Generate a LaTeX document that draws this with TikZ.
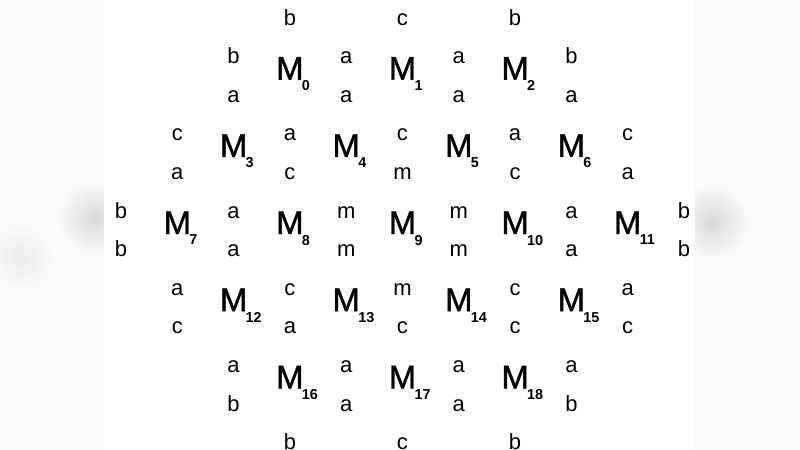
\documentclass[tikz,border=0pt]{standalone}
\usepackage{fontspec}
\setmainfont{Liberation Sans}
\newfontfamily\tilefont[FakeBold=1.2]{Liberation Sans}
\begin{document}
\begin{tikzpicture}[x=28.15pt, y=-19.3pt,
    letter/.style={anchor=base, inner sep=0pt, font=\fontsize{11}{13}\selectfont},
    tile/.style={anchor=base, inner sep=0pt, font=\tilefont\fontsize{16.4}{20}\selectfont},
    tileno/.style={anchor=north west, inner sep=0pt, xshift=-1.2pt, yshift=-0.3pt,
        font=\bfseries\fontsize{7.2}{9}\selectfont}]
    % Frame and blurred side bars
    \useasboundingbox (-60.5pt,12.5pt) rectangle (339.5pt,-212.5pt);
    \fill[gray!5] (-60.5pt,12.5pt) rectangle (-8.5pt,-212.5pt);
    \fill[gray!5] (287pt,12.5pt) rectangle (339.5pt,-212.5pt);
    \begin{scope}
        \clip (-60.5pt,12.5pt) rectangle (-8.5pt,-212.5pt);
        \shade[inner color=gray!30, outer color=gray!5] (-13pt,-96.5pt) circle (18pt);
        \shade[inner color=gray!15, outer color=gray!5] (-50pt,-116pt) circle (16pt);
    \end{scope}
    \begin{scope}
        \clip (287pt,12.5pt) rectangle (339.5pt,-212.5pt);
        \shade[inner color=gray!30, outer color=gray!5] (295.5pt,-98.5pt) circle (18pt);
    \end{scope}

    % Tiles M0 ... M18
    \foreach \i/\c/\r in {0/3/0, 1/5/0, 2/7/0,
                          3/2/1, 4/4/1, 5/6/1, 6/8/1,
                          7/1/2, 8/3/2, 9/5/2, 10/7/2, 11/9/2,
                          12/2/3, 13/4/3, 14/6/3, 15/8/3,
                          16/3/4, 17/5/4, 18/7/4}
    {
        \node[tile] (m\i) at (\c,{2*\r+1.415}) {M};
        \node[tileno] (n\i) at (m\i.base east) {\i};
    }

    % Letters between the tiles
    \foreach \k/\row in {0/{3/b,5/c,7/b},
                         1/{2/b,4/a,6/a,8/b},
                         2/{2/a,4/a,6/a,8/a},
                         3/{1/c,3/a,5/c,7/a,9/c},
                         4/{1/a,3/c,5/m,7/c,9/a},
                         5/{0/b,2/a,4/m,6/m,8/a,10/b},
                         6/{0/b,2/a,4/m,6/m,8/a,10/b},
                         7/{1/a,3/c,5/m,7/c,9/a},
                         8/{1/c,3/a,5/c,7/c,9/c},
                         9/{2/a,4/a,6/a,8/a},
                         10/{2/b,4/a,6/a,8/b},
                         11/{3/b,5/c,7/b}}
        \foreach \c/\t in \row
            \node[letter] (l\k-\c) at (\c,\k) {\t};
\end{tikzpicture}
\end{document}
